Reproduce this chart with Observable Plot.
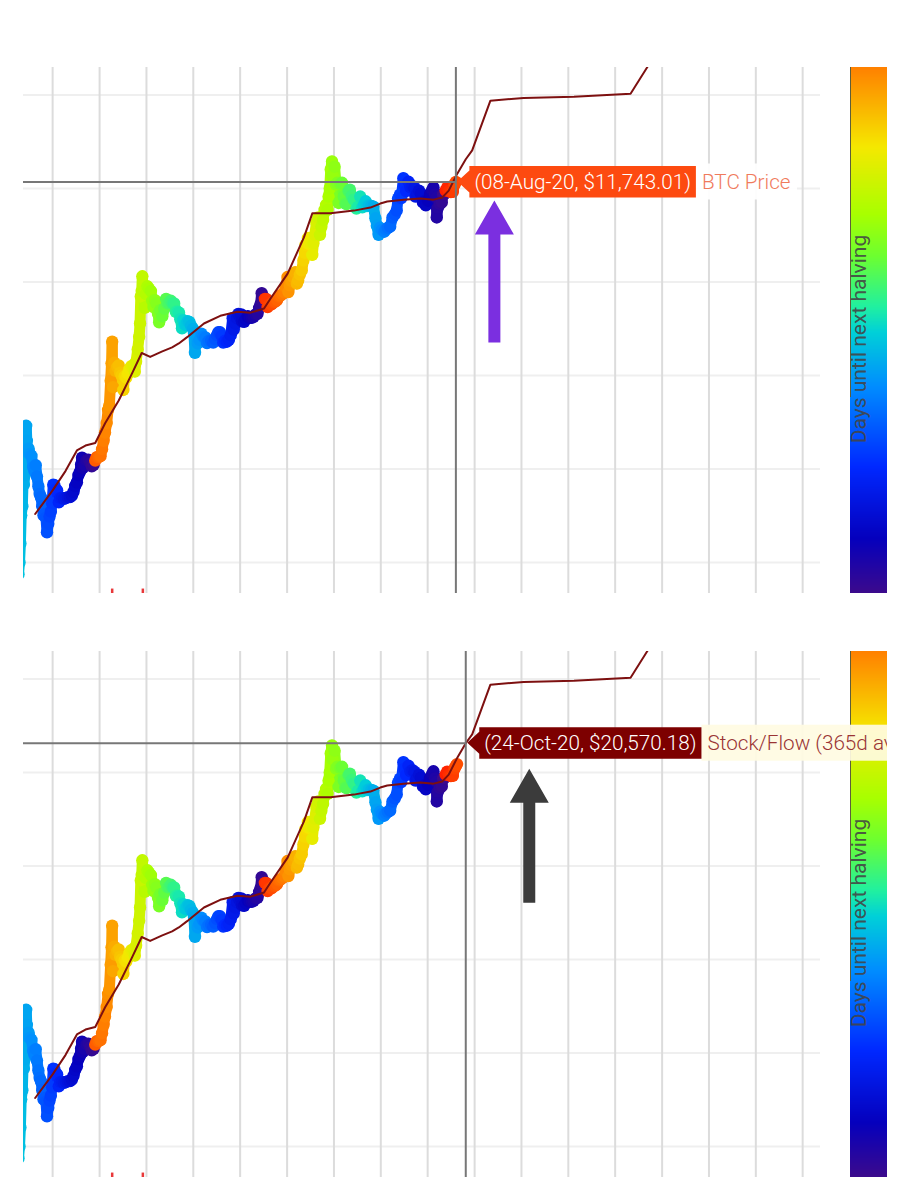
<!DOCTYPE html>
<html><head><meta charset="utf-8">
<script src="https://cdn.jsdelivr.net/npm/d3@7"></script>
<script src="https://cdn.jsdelivr.net/npm/@observablehq/plot@0.6"></script>
<style>
html,body{margin:0;padding:0;background:#fff;}
#wrap{position:relative;width:910px;height:1200px;overflow:hidden;font-family:Roboto,"Noto Sans",sans-serif;}
#wrap > *{position:absolute;}
#overlay{z-index:10;}
</style></head><body><div id="wrap"></div>
<script>
// ---------------- data ----------------
const btcDates = ["2011-04-10","2011-04-18","2011-04-25","2011-05-01","2011-05-10","2011-05-15","2011-05-22","2011-05-29","2011-06-04","2011-06-09","2011-06-14","2011-06-20","2011-06-28","2011-07-08","2011-07-20","2011-08-02","2011-08-12","2011-08-22","2011-09-01","2011-09-12","2011-09-22","2011-10-02","2011-10-12","2011-10-22","2011-11-01","2011-11-10","2011-11-18","2011-11-28","2011-12-08","2011-12-18","2011-12-28","2012-01-06","2012-01-15","2012-01-25","2012-02-05","2012-02-18","2012-03-01","2012-03-15","2012-03-30","2012-04-15","2012-04-30","2012-05-15","2012-05-30","2012-06-12","2012-06-25","2012-07-08","2012-07-20","2012-08-01","2012-08-10","2012-08-17","2012-08-22","2012-09-05","2012-09-20","2012-10-05","2012-10-20","2012-11-01","2012-11-15","2012-11-28","2012-12-10","2012-12-25","2013-01-08","2013-01-20","2013-02-01","2013-02-12","2013-02-25","2013-03-08","2013-03-18","2013-03-28","2013-04-04","2013-04-09","2013-04-12","2013-04-16","2013-04-25","2013-05-05","2013-05-18","2013-05-30","2013-06-10","2013-06-22","2013-07-05","2013-07-15","2013-07-28","2013-08-10","2013-08-22","2013-09-05","2013-09-20","2013-10-02","2013-10-12","2013-10-25","2013-11-05","2013-11-12","2013-11-18","2013-11-25","2013-11-30","2013-12-07","2013-12-18","2013-12-28","2014-01-08","2014-01-20","2014-02-05","2014-02-15","2014-02-25","2014-03-08","2014-03-20","2014-04-01","2014-04-10","2014-04-20","2014-05-05","2014-05-20","2014-06-03","2014-06-15","2014-06-28","2014-07-10","2014-07-25","2014-08-05","2014-08-18","2014-09-01","2014-09-12","2014-09-22","2014-10-05","2014-10-15","2014-10-28","2014-11-08","2014-11-18","2014-12-01","2014-12-15","2014-12-30","2015-01-06","2015-01-14","2015-01-24","2015-02-05","2015-02-18","2015-03-05","2015-03-20","2015-04-05","2015-04-18","2015-05-01","2015-05-20","2015-06-05","2015-06-20","2015-07-05","2015-07-15","2015-07-28","2015-08-10","2015-08-22","2015-09-05","2015-09-20","2015-10-05","2015-10-20","2015-11-04","2015-11-12","2015-11-25","2015-12-08","2015-12-18","2015-12-30","2016-01-10","2016-01-16","2016-02-01","2016-02-15","2016-03-01","2016-03-15","2016-04-01","2016-04-15","2016-05-01","2016-05-15","2016-05-28","2016-06-08","2016-06-17","2016-06-24","2016-07-02","2016-07-12","2016-07-25","2016-08-02","2016-08-15","2016-09-01","2016-09-15","2016-10-01","2016-10-15","2016-10-28","2016-11-10","2016-11-25","2016-12-10","2016-12-22","2017-01-04","2017-01-11","2017-01-22","2017-02-05","2017-02-22","2017-03-05","2017-03-18","2017-03-28","2017-04-10","2017-04-25","2017-05-08","2017-05-20","2017-05-25","2017-06-05","2017-06-12","2017-06-25","2017-07-05","2017-07-16","2017-07-25","2017-08-05","2017-08-17","2017-09-01","2017-09-14","2017-09-25","2017-10-08","2017-10-20","2017-11-01","2017-11-12","2017-11-20","2017-11-29","2017-12-07","2017-12-17","2017-12-22","2018-01-06","2018-01-17","2018-01-28","2018-02-06","2018-02-20","2018-03-05","2018-03-18","2018-03-31","2018-04-10","2018-04-25","2018-05-05","2018-05-20","2018-06-05","2018-06-25","2018-07-10","2018-07-25","2018-08-10","2018-08-25","2018-09-05","2018-09-15","2018-10-01","2018-10-20","2018-11-05","2018-11-20","2018-12-01","2018-12-15","2018-12-25","2019-01-10","2019-01-28","2019-02-10","2019-02-25","2019-03-15","2019-04-02","2019-04-20","2019-05-05","2019-05-15","2019-05-30","2019-06-10","2019-06-26","2019-07-05","2019-07-17","2019-08-05","2019-08-20","2019-09-05","2019-09-20","2019-09-28","2019-10-10","2019-10-26","2019-11-10","2019-11-25","2019-12-10","2019-12-18","2020-01-05","2020-01-20","2020-02-05","2020-02-15","2020-02-28","2020-03-08","2020-03-12","2020-03-20","2020-04-05","2020-04-20","2020-04-30","2020-05-10","2020-05-20","2020-06-01","2020-06-15","2020-06-30","2020-07-15","2020-07-28","2020-08-08","2020-08-17"];
const btcPrices = [0.75,1.0,1.6,3.2,4.0,7.0,6.8,8.6,17,29,20,15,16.5,14.5,13.8,10.5,9.5,11,8.3,6.5,5.4,5.0,4.0,3.2,3.3,3.0,2.1,2.6,3.1,3.5,4.3,6.8,6.7,6.0,5.9,4.4,4.9,4.9,4.8,4.9,5.0,5.0,5.2,5.7,6.6,7.2,8.6,9.3,11.2,13.2,10.2,11.0,12.4,12.6,11.6,10.7,11.1,12.3,13.4,13.4,13.7,16.3,20,24.5,31,43,48,88,135,230,120,75,137,112,123,128,107,100,70,98,95,105,118,126,128,110,140,190,260,360,700,800,1150,800,530,740,900,850,800,630,540,640,590,460,370,500,430,520,660,590,595,630,590,590,480,480,470,400,320,390,350,345,380,375,340,315,285,175,265,220,240,280,260,255,222,235,235,225,245,270,290,290,265,225,235,230,240,270,410,310,360,410,455,430,450,380,375,400,430,415,415,425,450,455,530,580,760,620,690,660,655,540,570,575,610,615,640,700,715,740,775,880,1130,780,920,1020,1120,1270,960,1040,1200,1330,1700,2050,2500,2600,2950,2550,2600,1950,2600,3200,4300,4900,3200,3900,4600,5900,6700,5900,8200,10000,16000,19500,13800,17100,11000,11500,7000,11200,11500,8200,6900,6800,9400,9700,8300,7600,6100,6400,8200,6300,6700,7300,6500,6600,6500,6400,4800,4000,3200,3800,3600,3450,3650,3800,3900,4900,5300,5800,7800,8600,7900,12900,11000,9400,11800,10300,10600,10200,8200,8600,9500,8800,7100,7300,6600,7400,8700,9600,10300,8700,8000,4900,6200,6800,7100,8700,8700,9500,10200,9400,9150,9200,11000,11743.01,12300];

const s2fDates = ["2011-08-18","2012-01-01","2012-04-10","2012-07-08","2012-09-13","2012-11-28","2013-02-14","2013-05-30","2013-09-09","2013-11-25","2014-01-30","2014-04-30","2014-07-20","2014-09-10","2014-11-14","2015-03-25","2015-07-30","2015-12-10","2016-03-22","2016-07-05","2016-08-25","2017-01-05","2017-05-12","2017-07-17","2017-12-05","2018-06-05","2018-10-12","2018-12-28","2019-02-20","2019-06-28","2019-11-06","2020-02-17","2020-04-23","2020-06-13","2020-08-20","2020-10-24","2020-12-13","2021-05-04","2022-01-18","2023-02-14","2024-04-30","2024-09-08","2024-11-01"];
const s2fValues = [3.3,5.9,9.5,15.8,17.8,19,31,54,104,174,158,180,200,220,257,360,435,480,470,520,665,1230,3000,5450,5450,5800,6250,6900,7250,7600,7800,7600,8000,9500,14500,20570.18,25600,87000,93000,96000,103000,199000,300000];

const halvingDates = ["2012-11-28","2016-07-09","2020-05-11","2024-04-20"];
const peakMarkDates = ["2013-04-09","2013-12-04"];
const priceGridTicks = [1,10,100,1000,10000,100000];

const colorStopDays   = [0,130,300,490,620,680,800,900,1060,1250,1440];
const colorStopColors = ["#3b0a8c","#0500bd","#0028ff","#008cff","#00d0d8","#20f0a0","#6cff30","#a8ff00","#f5e800","#ff8000","#ff1a00"];
const colorbarMaxDays = 1250;
const colorbarTitle = "Days until next halving";

const hovers = [
  {date:"2020-08-08", value:11743.01, text:"(08-Aug-20, $11,743.01)", series:"BTC Price",
   boxFill:"#fd4a10", seriesColor:"#f07a5c", seriesBg:"#ffffff", seriesBgRight:797,
   arrowColor:"#7b2fe0", arrowDx:39, arrowDy:19, arrowLen:142, dataEnd:"2020-08-08"},
  {date:"2020-10-24", value:20570.18, text:"(24-Oct-20, $20,570.18)", series:"Stock/Flow (365d average)",
   boxFill:"#7d0000", seriesColor:"#9a3434", seriesBg:"#fffbe2", seriesBgRight:887,
   arrowColor:"#3b3b3b", arrowDx:64, arrowDy:26, arrowLen:134, dataEnd:"2020-08-17"}
];

// ---------------- build ----------------
const parse = d3.utcParse("%Y-%m-%d");
const halvings = halvingDates.map(parse);
const daysUntilHalving = dt => (halvings.find(h => h > dt) - dt) / 864e5;
const btc = btcDates.map((d,i) => ({date: parse(d), price: btcPrices[i]}));
btc.forEach(d => d.days = daysUntilHalving(d.date));
const s2f = s2fDates.map((d,i) => ({date: parse(d), value: s2fValues[i]}));
const yearTicks = d3.utcYear.range(parse("2012-01-01"), parse("2029-01-01"));
const xDomain = [parse("2011-05-19"), parse("2028-05-19")];
const colorOpts = {type:"linear", domain: colorStopDays, range: colorStopColors, interpolate:"rgb"};

const wrap = d3.select("#wrap");
const panels = [
  {svgTop:0,   height:600, marginTop:67, marginBottom:7,  y10k:188},
  {svgTop:600, height:600, marginTop:51, marginBottom:23, y10k:172}
];
const decadePx = 93.5;
const tipFont = 20.7;

// overlay for annotations: attach first so text can be measured, keep on top with z-index
const overlay = wrap.append("svg").attr("id","overlay").attr("width",910).attr("height",1200)
  .style("left","0px").style("top","0px").style("pointer-events","none")
  .attr("font-family","Roboto, 'Noto Sans', sans-serif");
overlay.append("defs").append("clipPath").attr("id","clipR")
  .append("rect").attr("x",0).attr("y",0).attr("width",887).attr("height",1200);

panels.forEach((p, pi) => {
  const hv = hovers[pi];
  const hvDate = parse(hv.date);
  const dataEnd = parse(hv.dataEnd);
  const logHi = 4 + (p.y10k - p.marginTop) / decadePx;
  const logLo = 4 - (p.height - p.marginBottom - p.y10k) / decadePx;
  const data = btc.filter(d => d.date <= dataEnd);
  const segs = d3.pairs(data).map(([a,b]) => ({x1:a.date, y1:a.price, x2:b.date, y2:b.price, days:a.days}));
  const chart = Plot.plot({
    width:910, height:p.height,
    marginLeft:23, marginRight:90, marginTop:p.marginTop, marginBottom:p.marginBottom,
    x:{type:"utc", domain:xDomain, axis:null},
    y:{type:"log", domain:[10**logLo, 10**logHi], axis:null},
    color: colorOpts,
    marks:[
      Plot.ruleY(priceGridTicks, {stroke:"#efefef", strokeWidth:2}),
      Plot.ruleX(yearTicks, {stroke:"#dcdcdc", strokeWidth:2}),
      Plot.link(segs, {x1:"x1", y1:"y1", x2:"x2", y2:"y2", stroke:"days", strokeWidth:11, strokeLinecap:"round", clip:true}),
      Plot.dot(data, {x:"date", y:"price", r:6.2, fill:"days", clip:true}),
      Plot.ruleX(peakMarkDates.map(parse), {y1:0.52, y2:10**logLo, stroke:"#e8383a", strokeWidth:2.5, clip:true}),
      Plot.line(s2f, {x:"date", y:"value", stroke:"#7d1010", strokeWidth:2, clip:true}),
      Plot.ruleY([hv.value], {x1:() => xDomain[0], x2:() => hvDate, stroke:"#777", strokeWidth:2}),
      Plot.ruleX([hvDate], {stroke:"#777", strokeWidth:2})
    ]
  });
  d3.select(chart).style("left","0px").style("top", p.svgTop + "px");
  wrap.node().appendChild(chart);

  // colour bar drawn through the same colour scale
  const cbHeight = p.height - p.marginTop - p.marginBottom;
  const step = colorbarMaxDays / cbHeight;
  const cb = Plot.plot({
    width:37, height:cbHeight, margin:0,
    x:{domain:[0,1], axis:null},
    y:{domain:[0,colorbarMaxDays], axis:null},
    color: colorOpts,
    marks:[Plot.rect(d3.range(0, colorbarMaxDays, step), {x1:0, x2:1, y1:d => d, y2:d => Math.min(colorbarMaxDays, d + step*1.8), fill:d => d + step/2})]
  });
  d3.select(cb).style("left","850px").style("top", (p.svgTop + p.marginTop) + "px");
  wrap.node().appendChild(cb);

  // annotations
  const g = overlay.append("g");
  const cy0 = p.svgTop + p.marginTop;
  g.append("line").attr("x1",850.5).attr("x2",850.5).attr("y1",cy0).attr("y2",cy0+330)
    .attr("stroke","#5e5e3a").attr("stroke-width",1);
  g.append("text").attr("transform",`translate(866,${cy0+272}) rotate(-90)`)
    .attr("text-anchor","middle").attr("font-size",21).attr("fill","#444").attr("fill-opacity",0.9)
    .text(colorbarTitle);

  const cx = chart.scale("x").apply(hvDate);
  const cy = p.svgTop + chart.scale("y").apply(hv.value);
  const tg = g.append("g").attr("clip-path","url(#clipR)");
  const bgRect = tg.append("rect");
  const poly = tg.append("polygon");
  const t = tg.append("text").attr("x", cx+19).attr("y", cy+7.5).attr("font-size",tipFont).attr("font-weight",300)
    .attr("fill","#fff").text(hv.text);
  let tw = t.node().getComputedTextLength();
  if (!tw) tw = 215;
  const bx0 = cx+14, bx1 = cx+19+tw+5, by0 = cy-15.5, by1 = cy+16;
  poly.attr("fill", hv.boxFill).attr("points", [[cx+2,cy],[bx0,cy-11],[bx0,by0],[bx1,by0],[bx1,by1],[bx0,by1],[bx0,cy+11]].join(" "));
  bgRect.attr("x",bx1).attr("y",cy-18).attr("width",hv.seriesBgRight-bx1).attr("height",36)
    .attr("fill",hv.seriesBg).attr("fill-opacity",0.92);
  tg.append("text").attr("x", bx1+6).attr("y", cy+7.5).attr("font-size",tipFont).attr("font-weight",300)
    .attr("fill",hv.seriesColor).text(hv.series);

  // arrow pointing to the tooltip
  const ax = cx + hv.arrowDx, ay = cy + hv.arrowDy;
  const hw = 19.5, hh = 34, sw = 6;
  g.append("polygon").attr("fill", hv.arrowColor).attr("points",
    [[ax,ay],[ax+hw,ay+hh],[ax+sw,ay+hh],[ax+sw,ay+hv.arrowLen],[ax-sw,ay+hv.arrowLen],[ax-sw,ay+hh],[ax-hw,ay+hh]].join(" "));
});
</script></body></html>
